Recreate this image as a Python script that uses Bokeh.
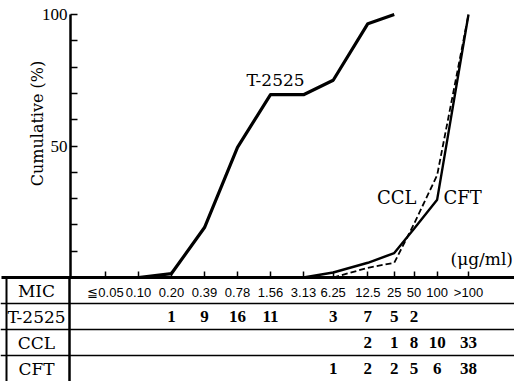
from math import pi
from bokeh.plotting import figure
from bokeh.models import Range1d, FixedTicker, Label
from bokeh.core.properties import value
from bokeh.embed import file_html
from bokeh.resources import INLINE

# ---------------- data ----------------
mic_labels = ["≦0.05", "0.10", "0.20", "0.39", "0.78", "1.56", "3.13",
              "6.25", "12.5", "25", "50", "100", ">100"]
# position of each MIC column on the printed (slightly uneven) scale
mic_scale = [1, 2, 3, 4, 5, 6, 7, 7.9, 8.95, 9.75, 10.35, 11.05, 12]

row_names = ["MIC", "T-2525", "CCL", "CFT"]
t2525_counts = [None, None, 1, 9, 16, 11, None, 3, 7, 5, 2, None, None]
ccl_counts = [None, None, None, None, None, None, None, None, 2, 1, 8, 10, 33]
cft_counts = [None, None, None, None, None, None, None, 1, 2, 2, 5, 6, 38]

# cumulative % as drawn in the graph
t2525_cum = [None, 0, 1.5, 19, 49.5, 69.5, 69.5, 75, 96.5, 100, None, None, None]
ccl_cum = [None, None, None, None, None, None, None, 0, 3.7, 5.6, 20.4, 38.9, 100]
cft_cum = [None, None, None, None, None, None, 0, 1.9, 5.6, 9.3, 18.5, 29.6, 100]

y_major = [0, 50, 100]
y_minor = [10, 20, 30, 40, 60, 70, 80, 90]

# ---------------- layout constants (pixels) ----------------
W, H = 514, 381
AXIS_PX = 70          # x pixel of the y axis
FIRST_PX = 105        # x pixel of first MIC column
UNIT_PX = 33.0        # pixels per MIC column
ZERO_PX = 277         # y pixel of 0 %
PX_PER_PCT = 2.63
ROW_LINES_PX = [303, 329, 355]
ROW_CENTERS_PX = [290, 316, 342, 368]

SERIF = "DejaVu Serif"
TSERIF = "Liberation Serif"
SANS = "Liberation Sans"


def px2x(px):
    return mic_scale[0] + (px - FIRST_PX) / UNIT_PX


def px2y(py):
    return (ZERO_PX - py) / PX_PER_PCT


def pairs(vals):
    xs, ys = [], []
    for x, v in zip(mic_scale, vals):
        if v is not None:
            xs.append(x)
            ys.append(v)
    return xs, ys


p = figure(width=W, height=H,
           x_range=Range1d(px2x(0), px2x(W)),
           y_range=Range1d(px2y(H), px2y(0)),
           output_backend="svg", toolbar_location=None, min_border=0)
p.outline_line_color = None
p.grid.visible = False
p.background_fill_color = "white"
p.border_fill_color = "white"

# x axis: baseline of the graph + MIC row of the table
xa = p.xaxis[0]
xa.fixed_location = 0
xa.bounds = (px2x(1), px2x(W))
xa.ticker = FixedTicker(ticks=mic_scale)
xa.major_label_overrides = {x: lab for x, lab in zip(mic_scale, mic_labels)}
xa.axis_line_width = 3
xa.major_tick_in = 6
xa.major_tick_out = 0
xa.major_tick_line_width = 1.5
xa.minor_tick_line_color = None
xa.major_label_text_font = SANS
xa.major_label_text_font_size = "13px"
xa.major_label_text_color = "black"
xa.major_label_standoff = 7

# y axis
ya = p.yaxis[0]
ya.fixed_location = px2x(AXIS_PX)
ya.ticker = FixedTicker(ticks=y_major, minor_ticks=y_minor)
ya.bounds = (0, 100)
ya.axis_line_width = 2.5
ya.major_tick_in = 7
ya.major_tick_out = 0
ya.minor_tick_in = 7
ya.minor_tick_out = 0
ya.major_tick_line_width = 1.5
ya.minor_tick_line_width = 1.5
ya.major_label_overrides = {0: ""}
ya.major_label_text_font = TSERIF
ya.major_label_text_font_size = "17px"
ya.major_label_text_color = "black"
ya.major_label_standoff = 3

# curves
xs, ys = pairs(t2525_cum)
p.line(xs, ys, line_color="black", line_width=3.2, line_join="round")
xs, ys = pairs(cft_cum)
p.line(xs, ys, line_color="black", line_width=2.4)
xs, ys = pairs(ccl_cum)
p.line(xs, ys, line_color="black", line_width=1.8, line_dash="6 3")


def label(text, x, y, align="center", size="17px", font=SERIF, angle=0):
    p.add_layout(Label(x=x, y=y, text=text, text_align=align,
                       text_baseline="middle", text_font=font,
                       text_font_size=size, text_color="black", angle=angle))


label("T-2525", px2x(275), px2y(79))
label("CCL", px2x(416), px2y(197), align="right", size="18px")
label("CFT", px2x(443), px2y(197), align="left", size="18px")
label("(μg/ml)", px2x(450), px2y(258), align="left", size="17px")
label("Cumulative (%)", px2x(37), px2y(123), size="16px", angle=pi / 2)

# ---------------- table ----------------
bottom = px2y(H)
n = len(ROW_LINES_PX)
p.segment(x0=[px2x(0)] * n, y0=[px2y(v) for v in ROW_LINES_PX],
          x1=[px2x(W)] * n, y1=[px2y(v) for v in ROW_LINES_PX],
          line_color="black", line_width=1.6)
p.segment(x0=[px2x(6), px2x(69)], y0=[0, 0],
          x1=[px2x(6), px2x(69)], y1=[bottom, bottom],
          line_color="black", line_width=[2, 2.5])

p.text(x=[px2x(36)] * len(row_names), y=[px2y(v) for v in ROW_CENTERS_PX],
       text=row_names, text_align="center", text_baseline="middle",
       text_font=value(SERIF), text_font_size="17px", text_color="black")


def count_row(counts, row):
    xs, vs = pairs(counts)
    yv = px2y(ROW_CENTERS_PX[row])
    p.text(x=xs, y=[yv] * len(xs), text=[str(v) for v in vs],
           text_align="center", text_baseline="middle",
           text_font=value(TSERIF), text_font_size="17px",
           text_font_style="bold", text_color="black")


count_row(t2525_counts, 1)
count_row(ccl_counts, 2)
count_row(cft_counts, 3)

open("out.html", "w").write(file_html(p, INLINE))
